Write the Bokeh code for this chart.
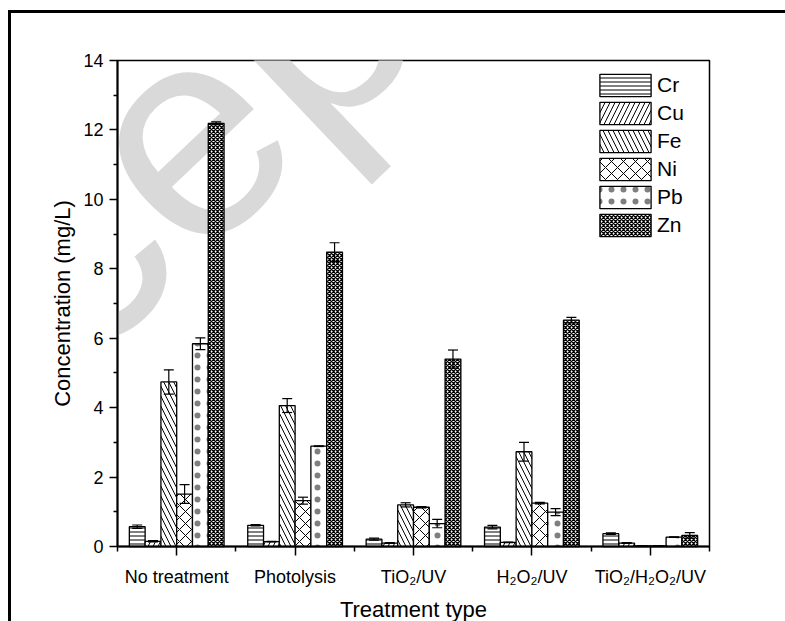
import numpy as np
from bokeh.plotting import figure
from bokeh.models import (ColumnDataSource, FixedTicker, Whisker, TeeHead,
                          Legend, LegendItem, Label)
from bokeh.embed import file_html
from bokeh.resources import INLINE

# ---------------- data ----------------
treatments = ["No treatment", "Photolysis", "TiO\u2082/UV", "H\u2082O\u2082/UV",
              "TiO\u2082/H\u2082O\u2082/UV"]
metals = ["Cr", "Cu", "Fe", "Ni", "Pb", "Zn"]

cr = [0.57, 0.61, 0.21, 0.56, 0.37]
cr_err = [0.05, 0.02, 0.03, 0.05, 0.02]
cu = [0.15, 0.14, 0.10, 0.12, 0.10]
cu_err = [0.02, 0.01, 0.01, 0.01, 0.01]
fe = [4.74, 4.06, 1.20, 2.73, 0.02]
fe_err = [0.35, 0.20, 0.06, 0.27, 0.0]
ni = [1.51, 1.32, 1.13, 1.25, 0.02]
ni_err = [0.27, 0.10, 0.02, 0.02, 0.0]
pb = [5.84, 2.89, 0.66, 0.99, 0.27]
pb_err = [0.17, 0.01, 0.12, 0.10, 0.01]
zn = [12.19, 8.48, 5.40, 6.52, 0.32]
zn_err = [0.04, 0.27, 0.26, 0.08, 0.08]

y_ticks = [0, 2, 4, 6, 8, 10, 12, 14]
y_minor = [1, 3, 5, 7, 9, 11, 13]

values = [cr, cu, fe, ni, pb, zn]
errors = [cr_err, cu_err, fe_err, ni_err, pb_err, zn_err]
# (pattern, scale, weight, alpha)
hatches = [("horizontal_line", 4, 1.0, 1.0), ("right_diagonal_line", 10, 1.0, 1.0),
           ("left_diagonal_line", 10, 1.0, 1.0), ("diagonal_cross", 12, 1.0, 1.0),
           ("dot", 12, 0.2, 0.5), ("diagonal_cross", 4, 1.3, 1.0)]

FONT = "Liberation Sans"

p = figure(width=777, height=611, x_range=(0.5, 5.5), y_range=(0, 14),
           output_backend="svg", toolbar_location=None,
           min_border_left=106, min_border_right=79,
           min_border_top=47, min_border_bottom=76)
p.styles = {"margin-left": "8px", "margin-top": "10px",
            "border-left": "3px solid black", "border-top": "3px solid black"}
p.grid.visible = False
p.background_fill_color = "white"
p.border_fill_color = "white"
p.outline_line_color = "black"
p.outline_line_width = 1.5

# watermark of the manuscript page
wm = Label(x=95, y=440, x_units="screen", y_units="screen", text="Accepted",
           angle=0.76, text_align="center", text_baseline="middle",
           text_font=FONT, text_font_size="300px", text_color="#d9d9d9",
           level="guide")
p.add_layout(wm)

xi = np.arange(1, len(treatments) + 1)
bar_w = 0.8 / len(metals)
items = []
for k, (m, v, e, (hp, hs, hw, ha)) in enumerate(zip(metals, values, errors, hatches)):
    off = (k - (len(metals) - 1) / 2) * bar_w
    v = np.array(v)
    e = np.array(e)
    src = ColumnDataSource(dict(x=xi + off, top=v, upper=v + e, lower=v - e))
    r = p.vbar(x="x", top="top", width=bar_w, bottom=0, source=src,
               fill_color="white", line_color="black", line_width=1.3,
               hatch_pattern=hp, hatch_scale=hs, hatch_weight=hw,
               hatch_alpha=ha, hatch_color="black", level="annotation")
    w = Whisker(source=src, base="x", upper="upper", lower="lower",
                dimension="height", line_color="black", line_width=1.2,
                level="overlay",
                upper_head=TeeHead(size=10, line_color="black", line_width=1.2),
                lower_head=TeeHead(size=10, line_color="black", line_width=1.2))
    p.add_layout(w)
    items.append(LegendItem(label=m, renderers=[r]))

legend = Legend(items=items, location=(476, 307), glyph_width=64,
                glyph_height=28, label_height=28, spacing=0, padding=0,
                margin=0, label_standoff=0, border_line_color=None,
                background_fill_alpha=0, label_text_font=FONT,
                label_text_font_size="21px", label_text_color="black",
                level="overlay")
p.add_layout(legend)

# axes
p.yaxis.ticker = FixedTicker(ticks=y_ticks, minor_ticks=y_minor)
p.xaxis.ticker = FixedTicker(ticks=xi.tolist(),
                             minor_ticks=(np.arange(len(treatments) + 1) + 0.5).tolist())
p.xaxis.major_label_overrides = {int(i): t for i, t in zip(xi, treatments)}

for ax in (p.xaxis[0], p.yaxis[0]):
    ax.level = "overlay"
    ax.axis_line_width = 2
    ax.axis_line_color = "black"
    ax.major_tick_line_color = "black"
    ax.minor_tick_line_color = "black"
    ax.major_tick_line_width = 1.5
    ax.minor_tick_line_width = 1.5
    ax.major_tick_in = 0
    ax.minor_tick_in = 0
    ax.major_label_text_font = FONT
    ax.major_label_text_font_size = "18px"
    ax.major_label_text_color = "black"
    ax.axis_label_text_font = FONT
    ax.axis_label_text_font_size = "22px"
    ax.axis_label_text_font_style = "normal"
    ax.axis_label_text_color = "black"

p.yaxis.major_tick_out = 8
p.yaxis.minor_tick_out = 4
p.yaxis.major_label_standoff = 6
p.yaxis.axis_label = "Concentration (mg/L)"
p.yaxis.axis_label_standoff = 5

p.xaxis.major_tick_out = 9
p.xaxis.minor_tick_out = 5
p.xaxis.major_label_standoff = 11
p.xaxis.axis_label = "Treatment type"
p.xaxis.axis_label_standoff = 7

open("out.html", "w").write(file_html(p, INLINE))
